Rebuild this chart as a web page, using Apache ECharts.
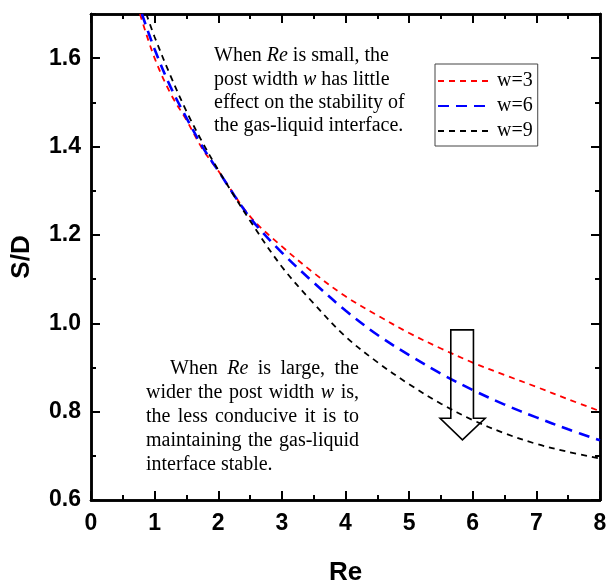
<!DOCTYPE html>
<html><head><meta charset="utf-8">
<script src="https://cdn.jsdelivr.net/npm/echarts@6/dist/echarts.min.js"></script>
<style>html,body{margin:0;padding:0;background:#fff}#c{width:608px;height:582px}</style>
</head><body><div id="c"></div>
<script>
// ---- data ----
const seriesNames = ['w=3', 'w=6', 'w=9'];
const reW3 = [0.77, 1, 1.25, 1.5, 1.75, 2, 2.5, 3, 3.5, 4, 4.5, 5, 5.5, 6, 6.5, 7, 7.5, 8];
const sdW3 = [1.70, 1.60, 1.52, 1.46, 1.395, 1.345, 1.242, 1.174, 1.114, 1.061, 1.018, 0.978, 0.943, 0.911, 0.883, 0.856, 0.828, 0.801];
const reW6 = [0.80, 1, 1.25, 1.5, 1.75, 2, 2.5, 3, 3.5, 4, 4.5, 5, 5.5, 6, 6.5, 7, 7.5, 8];
const sdW6 = [1.70, 1.62, 1.535, 1.465, 1.40, 1.345, 1.239, 1.16, 1.092, 1.029, 0.974, 0.928, 0.886, 0.849, 0.816, 0.787, 0.760, 0.735];
const reW9 = [0.87, 1, 1.25, 1.5, 1.75, 2, 2.5, 3, 3.5, 4, 4.5, 5, 5.5, 6, 6.5, 7, 7.5, 8];
const sdW9 = [1.70, 1.648, 1.56, 1.48, 1.41, 1.347, 1.232, 1.128, 1.045, 0.970, 0.912, 0.862, 0.818, 0.781, 0.751, 0.727, 0.709, 0.694];
const xRange = [0, 8];
const yRange = [0.6, 1.7];
const noteSmall = ['When *Re* is small, the', 'post width *w* has little', 'effect on the stability of', 'the gas-liquid interface.'];
const noteLarge = ['When *Re* is large, the', 'wider the post width *w* is,', 'the less conducive it is to', 'maintaining the gas-liquid', 'interface stable.'];
// arrow outline in data coordinates (Re, S/D)
const arrowPts = [[5.655, 0.985], [6.011, 0.985], [6.011, 0.785], [6.195, 0.785], [5.838, 0.736], [5.487, 0.785], [5.655, 0.785]];

// ---- chart ----
const chart = echarts.init(document.getElementById('c'), null, {renderer: 'canvas'});
const SANS = '"Liberation Sans", Arial, sans-serif';
const SERIF = '"Liberation Serif", "Times New Roman", serif';
const axLine = {show: true, onZero: false, lineStyle: {color: '#000', width: 2.5}};

function mkAxis(dim, pos, interval, major, withLabel) {
  const r = dim === 'x' ? xRange : yRange;
  const a = {
    type: 'value', position: pos, min: r[0], max: r[1], interval: interval,
    axisLine: axLine,
    axisTick: {show: true, inside: true, length: major ? 9 : 5, lineStyle: {color: '#000', width: 2}},
    axisLabel: {show: withLabel, color: '#000', fontFamily: SANS, fontWeight: 'bold', fontSize: 23,
      margin: dim === 'x' ? 12 : 10, showMaxLabel: dim === 'x',
      formatter: v => dim === 'x' ? String(Math.round(v)) : v.toFixed(1)},
    splitLine: {show: false}
  };
  if (withLabel) {
    a.name = dim === 'x' ? 'Re' : 'S/D';
    a.nameLocation = 'middle';
    a.nameGap = dim === 'x' ? 60 : 56;
    a.nameTextStyle = {color: '#000', fontFamily: SANS, fontWeight: 'bold', fontSize: 26};
  }
  return a;
}

const colors = ['#ff0000', '#0000ff', '#000000'];
const dashes = [[6, 5], [11, 7], [6, 5]];
const widths = [1.8, 2.6, 1.8];
const xs = [reW3, reW6, reW9];
const ys = [sdW3, sdW6, sdW9];

const series = seriesNames.map((n, k) => ({
  name: n, type: 'line', xAxisIndex: 0, yAxisIndex: 0,
  symbol: 'none', smooth: 0.35,
  data: xs[k].map((x, i) => [x, ys[k][i]]),
  lineStyle: {color: colors[k], width: widths[k], type: dashes[k]},
  itemStyle: {color: colors[k]}
}));

chart.setOption({
  animation: false,
  backgroundColor: '#fff',
  grid: {left: 91, right: 8, top: 14, bottom: 82, containLabel: false, outerBoundsMode: 'none'},
  xAxis: [
    mkAxis('x', 'bottom', 1, true, true),
    mkAxis('x', 'bottom', 0.5, false, false),
    mkAxis('x', 'top', 1, true, false),
    mkAxis('x', 'top', 0.5, false, false)
  ],
  yAxis: [
    mkAxis('y', 'left', 0.2, true, true),
    mkAxis('y', 'left', 0.1, false, false),
    mkAxis('y', 'right', 0.2, true, false),
    mkAxis('y', 'right', 0.1, false, false)
  ],
  legend: {
    data: seriesNames, orient: 'vertical', left: 435, top: 64,
    borderColor: '#444', borderWidth: 1, borderRadius: 0,
    padding: [7, 5, 5, 2], itemGap: 5, itemWidth: 51, itemHeight: 14,
    itemStyle: {opacity: 0},
    textStyle: {color: '#000', fontFamily: SERIF, fontSize: 20, padding: [0, 0, 0, 3]}
  },
  series: series
});

// ---- annotations ----
const ctx = document.createElement('canvas').getContext('2d');
function fontStr(it) { return (it ? 'italic ' : '') + '20px ' + SERIF; }
function measure(t, it) { ctx.font = fontStr(it); return ctx.measureText(t).width; }
function words(line) { return line.split(' ').map(w => w.startsWith('*') ? {t: w.replace(/\*/g, ''), it: true} : {t: w, it: false}); }

const graphics = [];
// top note: left aligned
noteSmall.forEach((line, li) => {
  let x = 214;
  const y = 56 + li * 23.3;
  const sp = measure(' ', false);
  words(line).forEach(w => {
    graphics.push({type: 'text', x: x, y: y, silent: true,
      style: {text: w.t, fontFamily: SERIF, fontSize: 20, fontStyle: w.it ? 'italic' : 'normal', fill: '#000', align: 'left', verticalAlign: 'middle'}});
    x += measure(w.t, w.it) + sp;
  });
});
// bottom note: justified
noteLarge.forEach((line, li) => {
  const ws = words(line);
  const left = li === 0 ? 170 : 146, right = 359;
  const y = 369 + li * 24;
  const total = ws.reduce((s, w) => s + measure(w.t, w.it), 0);
  const last = li === noteLarge.length - 1;
  const gap = last ? measure(' ', false) : (right - left - total) / (ws.length - 1);
  let x = left;
  ws.forEach(w => {
    graphics.push({type: 'text', x: x, y: y, silent: true,
      style: {text: w.t, fontFamily: SERIF, fontSize: 20, fontStyle: w.it ? 'italic' : 'normal', fill: '#000', align: 'left', verticalAlign: 'middle'}});
    x += measure(w.t, w.it) + gap;
  });
});
// arrow
const arrowPx = arrowPts.map(p => chart.convertToPixel({xAxisIndex: 0, yAxisIndex: 0}, p));
graphics.push({type: 'polygon', silent: true, z: 10, shape: {points: arrowPx},
  style: {fill: 'none', stroke: '#000', lineWidth: 1.6}});

chart.setOption({graphic: graphics});
</script>
</body></html>
